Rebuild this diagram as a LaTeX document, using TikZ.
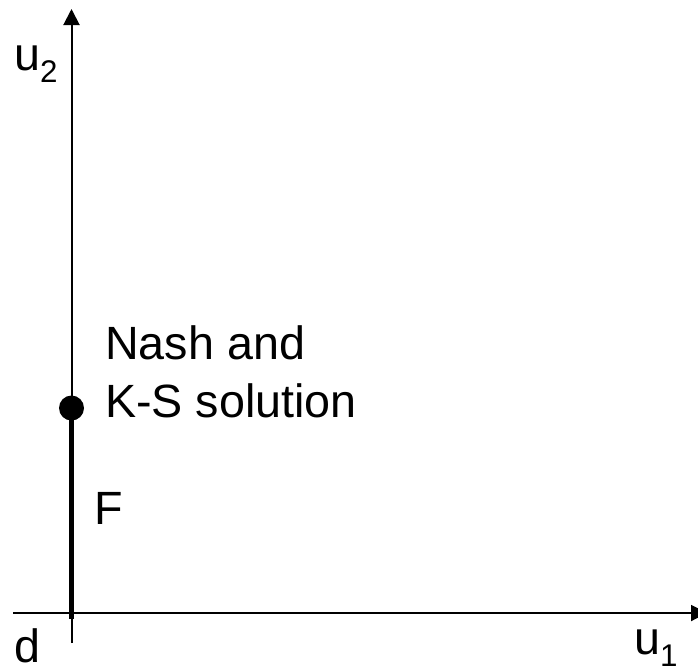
\documentclass[tikz,border=0pt]{standalone}
\usepackage{fontspec}
\setmainfont{Liberation Sans}
\usetikzlibrary{arrows.meta}
\tikzset{
  axis/.style={line width=1.5pt,-{Triangle[length=12pt,width=12pt]}},
  thinline/.style={line width=1.5pt},
  thickline/.style={line width=3.75pt},
  lbl/.style={inner sep=0pt,anchor=base west,font=\fontsize{35pt}{42pt}\selectfont},
  soln/.style={circle,fill=black,inner sep=0pt,minimum size=18.75pt}
}
\newcommand{\subdigit}[1]{{\fontsize{23.5pt}{23.5pt}\selectfont\raisebox{-9pt}{#1}}}
\begin{document}
\begin{tikzpicture}[x=0.75pt,y=-0.75pt]
\useasboundingbox (0,0) rectangle (698,669);
\coordinate (xstart) at (13,613);
\coordinate (xend) at (707,613);
\coordinate (ybottom) at (71.5,643);
\coordinate (ytop) at (71.5,9);
\coordinate (fbottom) at (71.5,619);
\node[soln] (sol) at (71.5,408) {};
\draw[axis] (xstart) -- (xend);
\draw[axis] (ybottom) -- (ytop);
\draw[thickline] (sol.center) -- (fbottom);
\node[lbl] (nash1) at (105,359) {Nash and};
\node[lbl] (nash2) at (105,417) {K-S solution};
\node[lbl] (flabel) at (94,524) {F};
\node[lbl] (dlabel) at (14.5,662) {d};
\node[lbl] (u2label) at (14,70) {u\subdigit{2}};
\node[lbl] (u1label) at (634,654) {u\subdigit{1}};
\end{tikzpicture}
\end{document}
